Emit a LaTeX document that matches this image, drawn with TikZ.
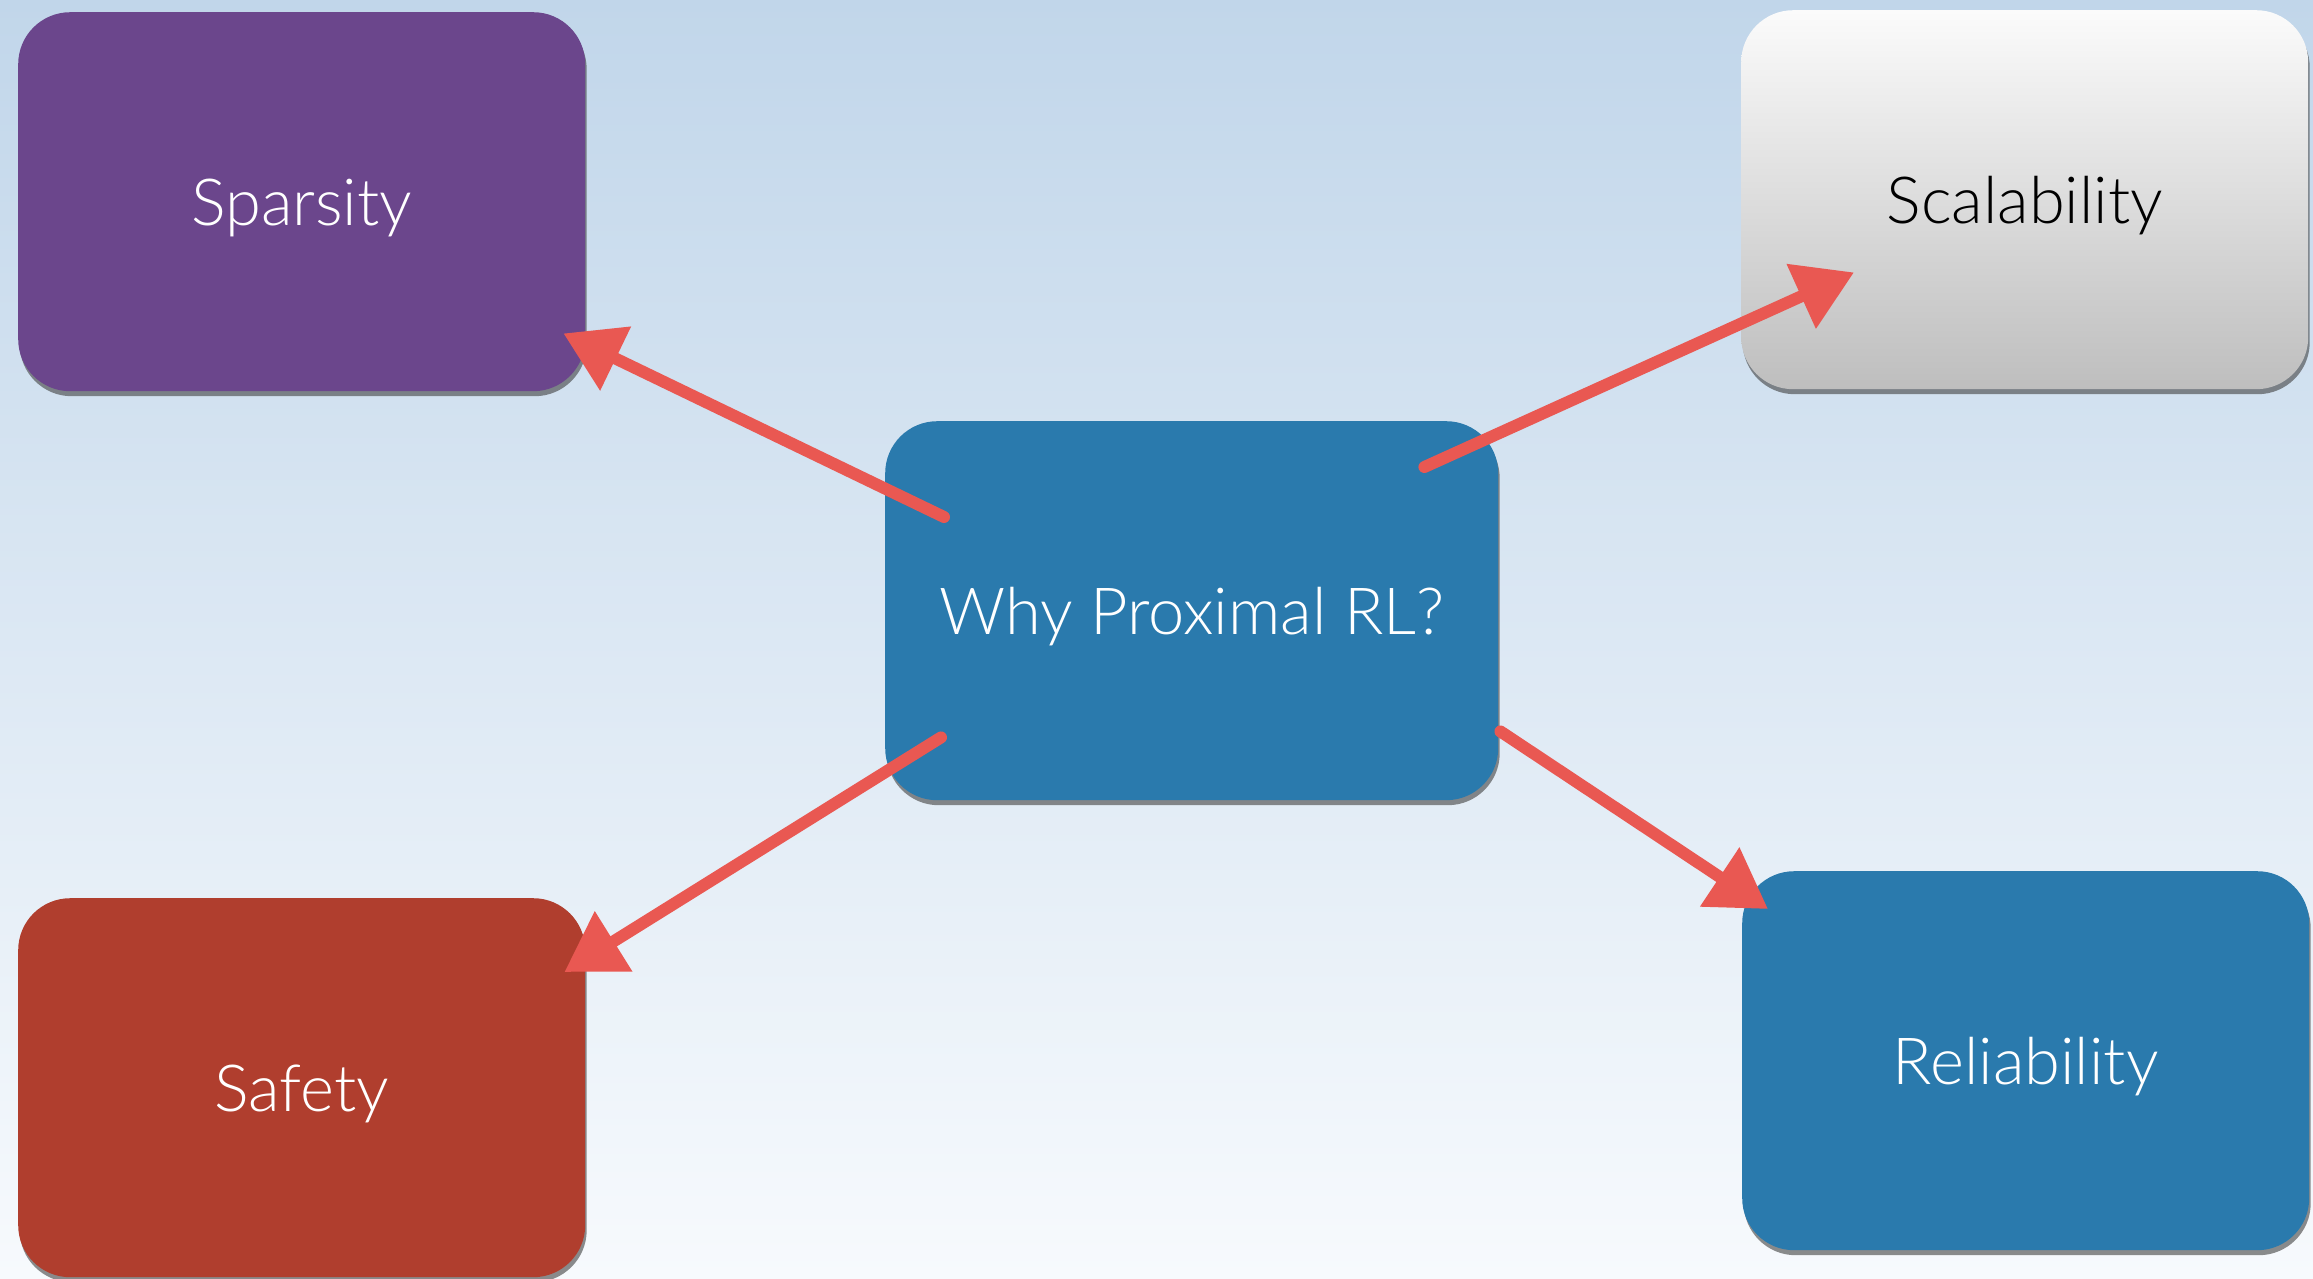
\documentclass[tikz,border=0pt]{standalone}
\usepackage{fontspec}
\setmainfont{Lato Light}
\usetikzlibrary{shadows,arrows.meta}
\definecolor{bgtop}{RGB}{193,214,234}
\definecolor{bgbot}{RGB}{247,250,253}
\definecolor{cardpurple}{RGB}{107,70,140}
\definecolor{cardblue}{RGB}{42,122,173}
\definecolor{cardred}{RGB}{176,62,46}
\definecolor{greytop}{RGB}{251,251,251}
\definecolor{greybot}{RGB}{190,190,190}
\definecolor{crayon}{RGB}{233,88,82}
\begin{document}
\begin{tikzpicture}[x=1pt,y=-1pt,
  card/.style={rounded corners=52pt, minimum width=567pt, minimum height=379pt,
    inner sep=0pt, text height=47pt, text depth=0pt, anchor=north west,
    font=\fontsize{65}{78}\selectfont, text=white,
    drop shadow={shadow xshift=1.5pt, shadow yshift=-5pt, opacity=0.6, fill=black!75}},
  link/.style={draw=crayon, line width=12pt, line cap=round,
    -{Triangle[length=58pt,width=68pt]}}]
  % canvas and sky-like backdrop
  \useasboundingbox (0,0) rectangle (2313,1278);
  \shade[top color=bgtop, bottom color=bgbot] (0,0) rectangle (2313,1278);

  % the five cards
  \node[card, fill=cardpurple] (sparsity) at (18,12) {Sparsity};
  \node[card, top color=greytop, bottom color=greybot, text=black] (scal) at (1741,10) {Scalability};
  \node[card, fill=cardblue, minimum width=613pt] (why) at (885,421) {Why Proximal RL?};
  \node[card, fill=cardred] (safety) at (18,898) {Safety};
  \node[card, fill=cardblue] (reli) at (1742,871) {Reliability};

  % crayon arrows from the central card
  \draw[link] ([shift={(59,96)}]why.north west) -- ([shift={(-22,-58)}]sparsity.south east);
  \draw[link] ([shift={(-74,46)}]why.north east) -- ([shift={(113,-117)}]scal.south west);
  \draw[link] ([shift={(56,-63)}]why.south west) -- ([shift={(-21,74)}]safety.north east);
  \draw[link] ([shift={(2,-69)}]why.south east) -- ([shift={(26,38)}]reli.north west);
\end{tikzpicture}
\end{document}
